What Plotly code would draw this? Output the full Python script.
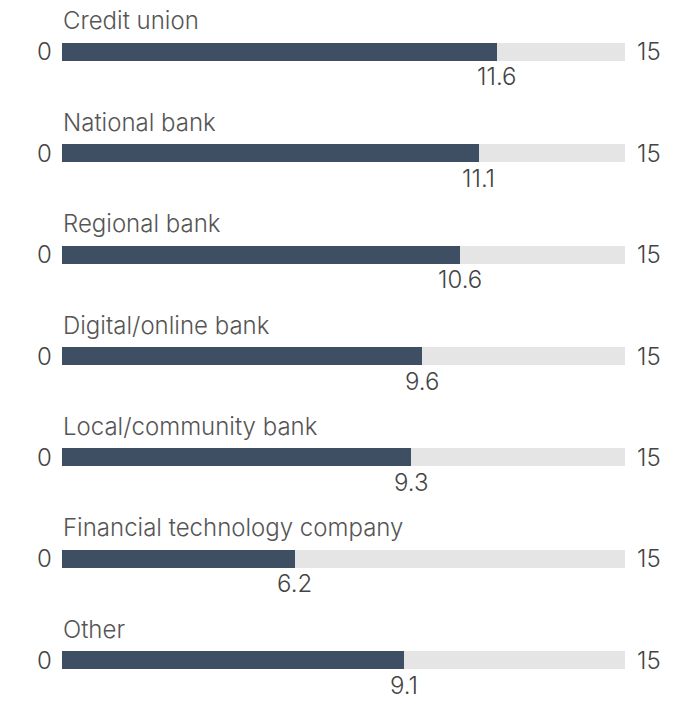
import plotly.graph_objects as go

categories = [
    "Credit union",
    "National bank",
    "Regional bank",
    "Digital/online bank",
    "Local/community bank",
    "Financial technology company",
    "Other",
]
values = [11.6, 11.1, 10.6, 9.6, 9.3, 6.2, 9.1]
scale_min = 0
scale_max = 15

rows = list(range(len(categories)))
FONT = "Inter"
SIZE = 24
WEIGHT = 300
BAR_W = 0.18

fig = go.Figure()
# grey track spanning the full scale
fig.add_trace(go.Bar(
    x=[scale_max] * len(categories), y=rows, base=scale_min, orientation="h",
    marker=dict(color="#e5e5e5", line=dict(width=0)), width=BAR_W,
    hoverinfo="skip", showlegend=False,
))
# value bar
fig.add_trace(go.Bar(
    x=values, y=rows, orientation="h",
    marker=dict(color="#3e4f63", line=dict(width=0)), width=BAR_W,
    customdata=categories, hovertemplate="%{customdata}: %{x}<extra></extra>",
    showlegend=False,
))

annotations = []
for i, (cat, v) in enumerate(zip(categories, values)):
    annotations.append(dict(x=scale_min, y=i, yshift=31, text=cat, showarrow=False,
                            xanchor="left", xshift=-1, yanchor="middle",
                            font=dict(family=FONT, size=SIZE, weight=WEIGHT, color="#555555")))
    annotations.append(dict(x=scale_min, y=i, text=str(scale_min), showarrow=False,
                            xanchor="right", xshift=-8, yanchor="middle",
                            font=dict(family=FONT, size=SIZE, weight=WEIGHT, color="#444444")))
    annotations.append(dict(x=scale_max, y=i, text=str(scale_max), showarrow=False,
                            xanchor="left", xshift=10, yanchor="middle",
                            font=dict(family=FONT, size=SIZE, weight=WEIGHT, color="#444444")))
    annotations.append(dict(x=v, y=i, yshift=-25, text=f"{v:.1f}", showarrow=False,
                            xanchor="center", yanchor="middle",
                            font=dict(family=FONT, size=SIZE, weight=WEIGHT, color="#444444")))

fig.update_layout(
    width=697, height=702,
    margin=dict(l=62, r=72, t=0, b=0),
    paper_bgcolor="white", plot_bgcolor="white",
    barmode="overlay",
    bargap=0,
    xaxis=dict(range=[scale_min, scale_max], visible=False, fixedrange=True),
    yaxis=dict(range=[6.414, -0.513], visible=False, fixedrange=True),
    annotations=annotations,
)

fig.write_html("out.html")
